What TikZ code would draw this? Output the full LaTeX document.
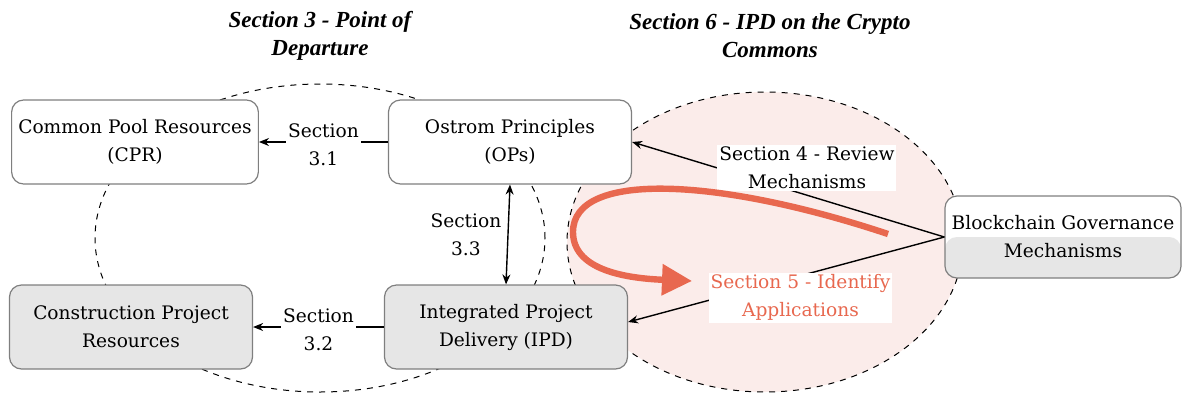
\documentclass[tikz,border=0pt]{standalone}
\usepackage{fontspec}
\setmainfont{DejaVu Serif}
\newfontfamily\titlefont{Liberation Serif}
\usetikzlibrary{arrows.meta}
\definecolor{boxgray}{HTML}{E6E6E6}
\definecolor{edgegray}{HTML}{7F7F7F}
\definecolor{sectred}{HTML}{E8684F}
\definecolor{pinkfill}{HTML}{FBECEA}
\begin{document}
\begin{tikzpicture}
  [x=0.5pt,y=-0.5pt,font=\fontsize{9.3}{14}\selectfont,
   box/.style={draw=edgegray,line width=0.6pt,rounded corners=6pt,minimum width=121.5pt,minimum height=42pt,align=center,fill=white},
   greybox/.style={box,fill=boxgray},
   arr/.style={-{Stealth[length=5pt,width=4pt]},line width=0.7pt},
   lbl/.style={fill=white,inner sep=1pt,align=center},
   title/.style={font=\titlefont\fontsize{11.5}{14}\selectfont\bfseries\itshape,align=center}]
  \useasboundingbox (0,0) rectangle (1182,397);
  % section areas
  \draw[dashed,fill=pinkfill,line width=0.5pt] (765,242) ellipse [x radius=99pt,y radius=75pt];
  \draw[dashed,line width=0.5pt] (320,238) ellipse [x radius=112.5pt,y radius=77pt];
  \node (t3)[title] at (320,36) {Section 3 - Point of\\Departure};
  \node (t6)[title] at (770,36) {Section 6 - IPD on the Crypto\\Commons};
  % boxes
  \node (cpr)[box] at (135,142) {Common Pool Resources\\(CPR)};
  \node (ops)[box] at (510,142) {Ostrom Principles\\(OPs)};
  \node (cres)[greybox] at (131,327) {Construction Project\\Resources};
  \node (ipd)[greybox] at (506,327) {Integrated Project\\Delivery (IPD)};
  \node (bgm)[box,minimum width=117pt,minimum height=41pt,
    path picture={\fill[boxgray] (path picture bounding box.west) rectangle (path picture bounding box.south east);}]
    at (1063,237) {Blockchain Governance\\Mechanisms};
  % connectors
  \draw[arr] (ops) -- node[lbl,yshift=-1.5pt]{Section\\3.1} (cpr);
  \draw[arr] (ipd) -- node[lbl,yshift=-1.5pt]{Section\\3.2} (cres);
  \draw[line width=0.7pt,{Stealth[length=5pt,width=4pt]}-{Stealth[length=5pt,width=4pt]}] (ops.south) -- node[lbl,left=2pt]{Section\\3.3} (ipd.north);
  \draw[arr] (bgm.west) -- node[lbl,pos=0.44,yshift=13.5pt]{Section 4 - Review\\Mechanisms} (ops.east);
  \draw[arr] (bgm.west) -- node[lbl,pos=0.455,yshift=-11pt,text=sectred]{Section 5 - Identify\\Applications} ([yshift=2.5pt]ipd.east);
  \coordinate (rs) at (888,234);
  \coordinate (re) at (692,281);
  \draw[sectred,line width=3.2pt,-{Triangle[length=15pt,width=15pt]}]
    (rs) .. controls (720,178) and (573,170) .. (573,232) .. controls (573,268) and (620,278) .. (re);
\end{tikzpicture}
\end{document}
